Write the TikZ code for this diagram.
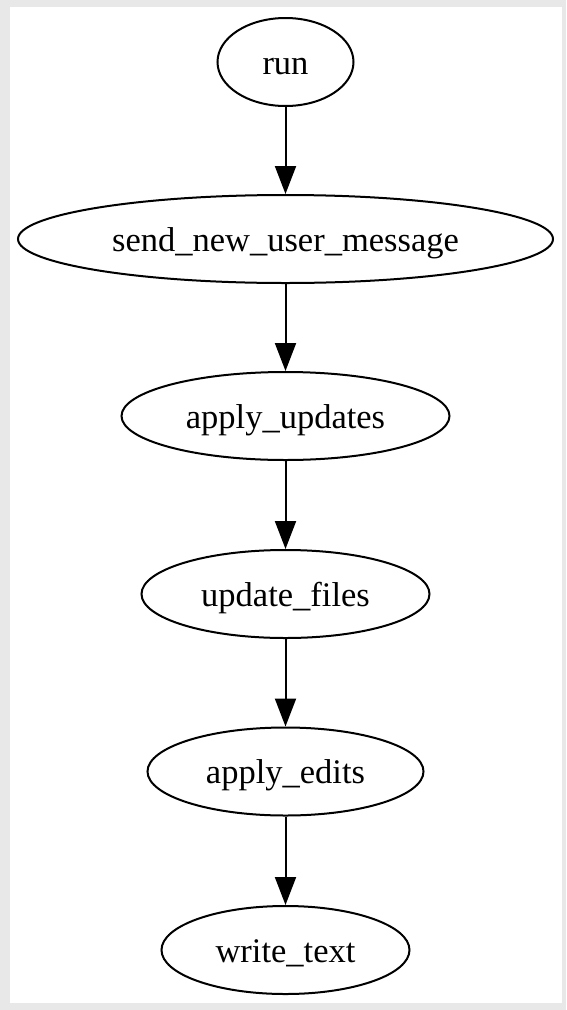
\documentclass[tikz,border=0pt]{standalone}
\usepackage{fontspec}
\setmainfont{Liberation Serif}
\usetikzlibrary{shapes.geometric,arrows.meta}
\definecolor{frame}{HTML}{E8E8E8}
\tikzset{
  gnode/.style={ellipse, draw=black, line width=2pt, inner sep=0pt,
    minimum height=88pt, text height=24pt, text depth=0pt,
    font=\fontsize{34.5}{40}\selectfont},
  gedge/.style={line width=2pt, -{Triangle[length=28pt,width=21pt]}},
}
\begin{document}
\begin{tikzpicture}[x=1pt,y=-1pt]
\fill[frame] (0,0) rectangle (566,1010);
\fill[white] (9.5,7) rectangle (562,1003);
\useasboundingbox (0,0) rectangle (566,1010);
\node[gnode, minimum width=136pt] (run) at (285.5,62) {run};
\node[gnode, minimum width=535pt] (send) at (285.5,239) {send\_new\_user\_message};
\node[gnode, minimum width=328pt] (upd) at (285.5,416) {apply\_updates};
\node[gnode, minimum width=288pt] (files) at (285.5,594) {update\_files};
\node[gnode, minimum width=276pt] (edits) at (285.5,771.5) {apply\_edits};
\node[gnode, minimum width=248pt] (write) at (285.5,950) {write\_text};
\draw[gedge] (run) -- (send);
\draw[gedge] (send) -- (upd);
\draw[gedge] (upd) -- (files);
\draw[gedge] (files) -- (edits);
\draw[gedge] (edits) -- (write);
\end{tikzpicture}
\end{document}
